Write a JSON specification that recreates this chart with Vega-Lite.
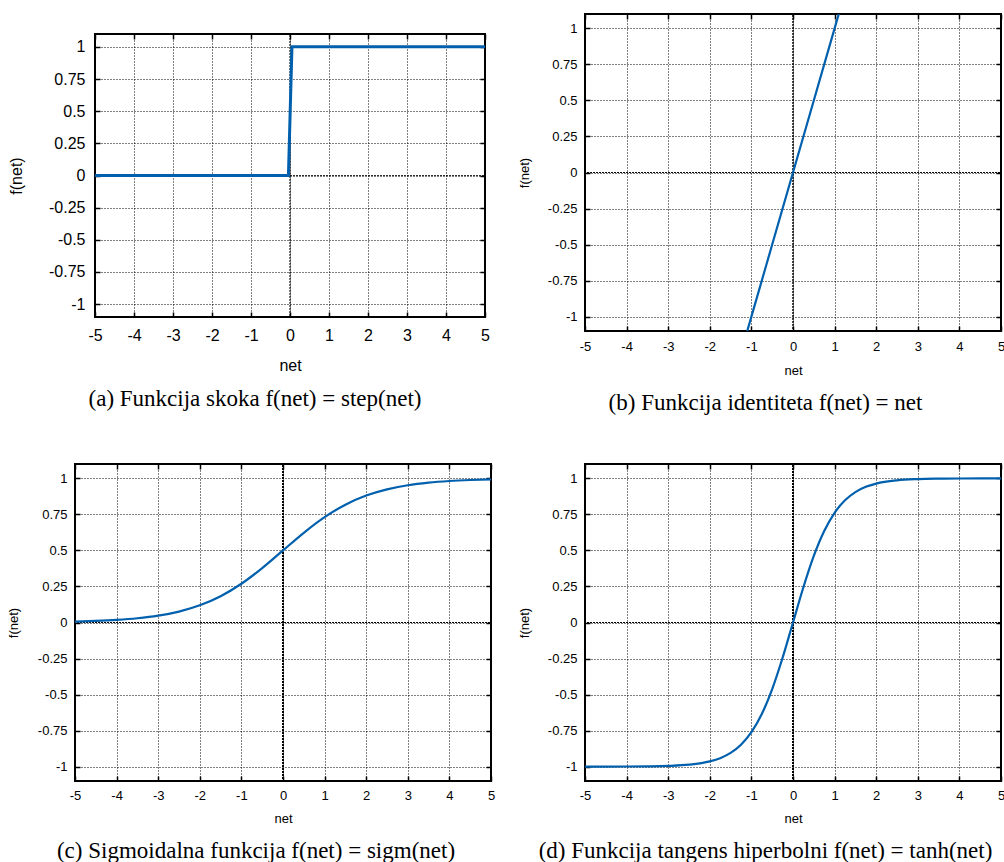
{
  "$schema": "https://vega.github.io/schema/vega-lite/v6.json",
  "background": "white",
  "padding": {"left": 6, "top": 12, "right": 0, "bottom": 0},
  "config": {
    "view": {"stroke": "black", "strokeWidth": 2},
    "axis": {"domain": false, "tickColor": "black", "tickWidth": 1.5, "tickSize": -5, "gridColor": "black", "gridDash": [1, 2], "gridWidth": 1, "gridOpacity": 1, "labelColor": "black", "titleColor": "black", "labelFont": "Liberation Sans", "titleFont": "Liberation Sans", "titleFontWeight": "normal", "labelFlush": false, "labelOverlap": false, "zindex": 1},
    "title": {"font": "Liberation Serif", "fontSize": 23, "fontWeight": "normal", "color": "black", "orient": "bottom", "frame": "bounds", "anchor": "middle", "offset": 15}
  },
  "spacing": 46,
  "vconcat": [
    {
      "spacing": 26,
      "hconcat": [
        {
          "bounds": "flush",
          "spacing": 0,
          "vconcat": [
            {"width": 1, "height": 20, "view": {"stroke": null}, "data": {"values": [{"s": 0}]}, "mark": {"type": "point", "opacity": 0}, "encoding": {}},
            {
              "bounds": "flush",
              "spacing": 19,
              "hconcat": [
                {"width": 1, "height": 1, "view": {"stroke": null}, "data": {"values": [{"s": 0}]}, "mark": {"type": "point", "opacity": 0}, "encoding": {}},
                {
                  "width": 390, "height": 283,
                  "title": {"text": "(a) Funkcija skoka f(net) = step(net)", "dx": 6},
                  "data": {"values": [{"net": -5, "f": 0}, {"net": -0.04, "f": 0}, {"net": 0.05, "f": 1}, {"net": 5, "f": 1}]},
                  "layer": [
                    {"mark": {"type": "rule", "color": "black", "strokeWidth": 1, "strokeDash": [1, 2], "strokeDashOffset": 1.5, "opacity": 0.7}, "encoding": {"y": {"datum": 0, "type": "quantitative", "axis": null}}},
                    {"mark": {"type": "rule", "color": "black", "strokeWidth": 1, "strokeDash": [1, 2], "strokeDashOffset": 1.5, "opacity": 0.7}, "encoding": {"x": {"datum": 0, "type": "quantitative", "axis": null}}},
                    {"mark": {"type": "line", "color": "#0060ad", "strokeWidth": 3, "clip": true},
                     "encoding": {
                       "x": {"field": "net", "type": "quantitative", "scale": {"domain": [-5, 5], "nice": false, "zero": false},
                             "axis": {"orient": "bottom", "title": "net", "values": [-5, -4, -3, -2, -1, 0, 1, 2, 3, 4, 5], "labelExpr": "toString(datum.value)", "grid": true, "labelFontSize": 16, "titleFontSize": 16, "labelPadding": 15, "titlePadding": 14}},
                       "y": {"field": "f", "type": "quantitative", "scale": {"domain": [-1.1, 1.1], "nice": false, "zero": false},
                             "axis": {"orient": "left", "title": "f(net)", "values": [-1, -0.75, -0.5, -0.25, 0, 0.25, 0.5, 0.75, 1], "labelExpr": "toString(datum.value)", "grid": true, "labelFontSize": 16, "titleFontSize": 16, "labelPadding": 15, "titlePadding": 24}}
                     }},
                    {"mark": {"type": "line", "opacity": 0},
                     "encoding": {
                       "x": {"field": "net", "type": "quantitative", "axis": {"orient": "top", "labels": false, "grid": false, "title": null, "values": [-5, -4, -3, -2, -1, 0, 1, 2, 3, 4, 5]}},
                       "y": {"field": "f", "type": "quantitative", "axis": {"orient": "right", "labels": false, "grid": false, "title": null, "values": [-1, -0.75, -0.5, -0.25, 0, 0.25, 0.5, 0.75, 1]}}
                     }}
                  ],
                  "resolve": {"axis": {"x": "independent", "y": "independent"}}
                }
              ]
            }
          ]
        },
        {
          "width": 416, "height": 317,
          "title": {"text": "(b) Funkcija identiteta f(net) = net", "dx": 4},
          "data": {"values": [{"net": -1.1, "f": -1.1}, {"net": -1, "f": -1}, {"net": -0.5, "f": -0.5}, {"net": 0, "f": 0}, {"net": 0.5, "f": 0.5}, {"net": 1, "f": 1}, {"net": 1.1, "f": 1.1}]},
          "layer": [
            {"mark": {"type": "rule", "color": "black", "strokeWidth": 1, "strokeDash": [1, 2], "strokeDashOffset": 1.5, "opacity": 0.7}, "encoding": {"y": {"datum": 0, "type": "quantitative", "axis": null}}},
            {"mark": {"type": "rule", "color": "black", "strokeWidth": 1, "strokeDash": [1, 2], "strokeDashOffset": 1.5, "opacity": 0.7}, "encoding": {"x": {"datum": 0, "type": "quantitative", "axis": null}}},
            {"mark": {"type": "line", "color": "#0060ad", "strokeWidth": 2.2, "clip": true},
             "encoding": {
               "x": {"field": "net", "type": "quantitative", "scale": {"domain": [-5, 5], "nice": false, "zero": false},
                     "axis": {"orient": "bottom", "title": "net", "values": [-5, -4, -3, -2, -1, 0, 1, 2, 3, 4, 5], "labelExpr": "toString(datum.value)", "grid": true, "labelFontSize": 13, "titleFontSize": 13, "labelPadding": 14, "titlePadding": 11}},
               "y": {"field": "f", "type": "quantitative", "scale": {"domain": [-1.1, 1.1], "nice": false, "zero": false},
                     "axis": {"orient": "left", "title": "f(net)", "values": [-1, -0.75, -0.5, -0.25, 0, 0.25, 0.5, 0.75, 1], "labelExpr": "toString(datum.value)", "grid": true, "labelFontSize": 13, "titleFontSize": 13, "labelPadding": 13, "titlePadding": 16}}
             }},
            {"mark": {"type": "line", "opacity": 0},
             "encoding": {
               "x": {"field": "net", "type": "quantitative", "axis": {"orient": "top", "labels": false, "grid": false, "title": null, "values": [-5, -4, -3, -2, -1, 0, 1, 2, 3, 4, 5]}},
               "y": {"field": "f", "type": "quantitative", "axis": {"orient": "right", "labels": false, "grid": false, "title": null, "values": [-1, -0.75, -0.5, -0.25, 0, 0.25, 0.5, 0.75, 1]}}
             }}
          ],
          "resolve": {"axis": {"x": "independent", "y": "independent"}}
        }
      ]
    },
    {
      "spacing": 21,
      "hconcat": [
        {
          "width": 416, "height": 317,
          "title": {"text": "(c) Sigmoidalna funkcija f(net) = sigm(net)", "dx": 5},
          "data": {"values": [{"net": -5, "f": 0.0067}, {"net": -4.5, "f": 0.011}, {"net": -4, "f": 0.018}, {"net": -3.5, "f": 0.0293}, {"net": -3, "f": 0.0474}, {"net": -2.5, "f": 0.0759}, {"net": -2, "f": 0.1192}, {"net": -1.5, "f": 0.1824}, {"net": -1, "f": 0.2689}, {"net": -0.5, "f": 0.3775}, {"net": 0, "f": 0.5}, {"net": 0.5, "f": 0.6225}, {"net": 1, "f": 0.7311}, {"net": 1.5, "f": 0.8176}, {"net": 2, "f": 0.8808}, {"net": 2.5, "f": 0.9241}, {"net": 3, "f": 0.9526}, {"net": 3.5, "f": 0.9707}, {"net": 4, "f": 0.982}, {"net": 4.5, "f": 0.989}, {"net": 5, "f": 0.9933}]},
          "layer": [
            {"mark": {"type": "rule", "color": "black", "strokeWidth": 1, "strokeDash": [1, 2], "strokeDashOffset": 1.5, "opacity": 0.7}, "encoding": {"y": {"datum": 0, "type": "quantitative", "axis": null}}},
            {"mark": {"type": "rule", "color": "black", "strokeWidth": 1, "strokeDash": [1, 2], "strokeDashOffset": 1.5, "opacity": 0.7}, "encoding": {"x": {"datum": 0, "type": "quantitative", "axis": null}}},
            {"mark": {"type": "line", "color": "#0060ad", "strokeWidth": 2.2, "clip": true, "interpolate": "monotone"},
             "encoding": {
               "x": {"field": "net", "type": "quantitative", "scale": {"domain": [-5, 5], "nice": false, "zero": false},
                     "axis": {"orient": "bottom", "title": "net", "values": [-5, -4, -3, -2, -1, 0, 1, 2, 3, 4, 5], "labelExpr": "toString(datum.value)", "grid": true, "labelFontSize": 13, "titleFontSize": 13, "labelPadding": 13, "titlePadding": 10}},
               "y": {"field": "f", "type": "quantitative", "scale": {"domain": [-1.1, 1.1], "nice": false, "zero": false},
                     "axis": {"orient": "left", "title": "f(net)", "values": [-1, -0.75, -0.5, -0.25, 0, 0.25, 0.5, 0.75, 1], "labelExpr": "toString(datum.value)", "grid": true, "labelFontSize": 13, "titleFontSize": 13, "labelPadding": 13, "titlePadding": 17}}
             }},
            {"mark": {"type": "line", "opacity": 0},
             "encoding": {
               "x": {"field": "net", "type": "quantitative", "axis": {"orient": "top", "labels": false, "grid": false, "title": null, "values": [-5, -4, -3, -2, -1, 0, 1, 2, 3, 4, 5]}},
               "y": {"field": "f", "type": "quantitative", "axis": {"orient": "right", "labels": false, "grid": false, "title": null, "values": [-1, -0.75, -0.5, -0.25, 0, 0.25, 0.5, 0.75, 1]}}
             }}
          ],
          "resolve": {"axis": {"x": "independent", "y": "independent"}}
        },
        {
          "width": 416, "height": 317,
          "title": {"text": "(d) Funkcija tangens hiperbolni f(net) = tanh(net)", "dx": 4},
          "data": {"values": [{"net": -5, "f": -0.9999}, {"net": -4, "f": -0.9993}, {"net": -3.5, "f": -0.9982}, {"net": -3, "f": -0.9951}, {"net": -2.5, "f": -0.9866}, {"net": -2, "f": -0.964}, {"net": -1.75, "f": -0.9414}, {"net": -1.5, "f": -0.9051}, {"net": -1.25, "f": -0.8483}, {"net": -1, "f": -0.7616}, {"net": -0.75, "f": -0.6351}, {"net": -0.5, "f": -0.4621}, {"net": -0.25, "f": -0.2449}, {"net": 0, "f": 0}, {"net": 0.25, "f": 0.2449}, {"net": 0.5, "f": 0.4621}, {"net": 0.75, "f": 0.6351}, {"net": 1, "f": 0.7616}, {"net": 1.25, "f": 0.8483}, {"net": 1.5, "f": 0.9051}, {"net": 1.75, "f": 0.9414}, {"net": 2, "f": 0.964}, {"net": 2.5, "f": 0.9866}, {"net": 3, "f": 0.9951}, {"net": 3.5, "f": 0.9982}, {"net": 4, "f": 0.9993}, {"net": 5, "f": 0.9999}]},
          "layer": [
            {"mark": {"type": "rule", "color": "black", "strokeWidth": 1, "strokeDash": [1, 2], "strokeDashOffset": 1.5, "opacity": 0.7}, "encoding": {"y": {"datum": 0, "type": "quantitative", "axis": null}}},
            {"mark": {"type": "rule", "color": "black", "strokeWidth": 1, "strokeDash": [1, 2], "strokeDashOffset": 1.5, "opacity": 0.7}, "encoding": {"x": {"datum": 0, "type": "quantitative", "axis": null}}},
            {"mark": {"type": "line", "color": "#0060ad", "strokeWidth": 2.2, "clip": true, "interpolate": "monotone"},
             "encoding": {
               "x": {"field": "net", "type": "quantitative", "scale": {"domain": [-5, 5], "nice": false, "zero": false},
                     "axis": {"orient": "bottom", "title": "net", "values": [-5, -4, -3, -2, -1, 0, 1, 2, 3, 4, 5], "labelExpr": "toString(datum.value)", "grid": true, "labelFontSize": 13, "titleFontSize": 13, "labelPadding": 13, "titlePadding": 10}},
               "y": {"field": "f", "type": "quantitative", "scale": {"domain": [-1.1, 1.1], "nice": false, "zero": false},
                     "axis": {"orient": "left", "title": "f(net)", "values": [-1, -0.75, -0.5, -0.25, 0, 0.25, 0.5, 0.75, 1], "labelExpr": "toString(datum.value)", "grid": true, "labelFontSize": 13, "titleFontSize": 13, "labelPadding": 13, "titlePadding": 16}}
             }},
            {"mark": {"type": "line", "opacity": 0},
             "encoding": {
               "x": {"field": "net", "type": "quantitative", "axis": {"orient": "top", "labels": false, "grid": false, "title": null, "values": [-5, -4, -3, -2, -1, 0, 1, 2, 3, 4, 5]}},
               "y": {"field": "f", "type": "quantitative", "axis": {"orient": "right", "labels": false, "grid": false, "title": null, "values": [-1, -0.75, -0.5, -0.25, 0, 0.25, 0.5, 0.75, 1]}}
             }}
          ],
          "resolve": {"axis": {"x": "independent", "y": "independent"}}
        }
      ]
    }
  ]
}
